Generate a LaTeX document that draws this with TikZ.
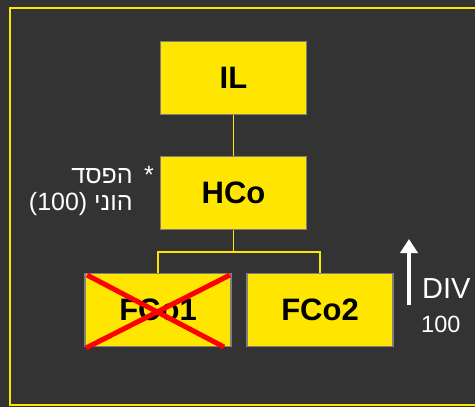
\documentclass[tikz,border=0pt]{standalone}
\usepackage{fontspec}
\setmainfont{Liberation Sans}
\newfontfamily\hebfont[Script=Hebrew]{Liberation Sans}
\TeXXeTstate=1
\usetikzlibrary{arrows.meta}
\definecolor{bg}{HTML}{333333}
\definecolor{yel}{HTML}{FFE600}
\definecolor{bord}{HTML}{7F7F7F}
\definecolor{redx}{HTML}{FF0000}
\begin{document}
\begin{tikzpicture}[x=1pt,y=1pt,
  box/.style={draw=bord,line width=1.5pt,fill=yel,minimum width=146pt,minimum height=73pt,inner sep=0pt,font=\fontsize{31}{31}\selectfont\bfseries,text=black},
  conn/.style={draw=yel,line width=1.6pt},
  lbl/.style={text=white,inner sep=0pt}]
\fill[bg] (0,0) rectangle (475,-407);
\useasboundingbox (0,0) rectangle (475,-407);
\draw[yel,line width=2pt] (9.5,-7.5) rectangle (485,-405);
\node[box] (il) at (233.5,-78) {IL};
\node[box] (hco) at (233.5,-193) {HCo};
\node[box] (fco1) at (158,-310) {FCo1};
\node[box] (fco2) at (320,-310) {FCo2};
\draw[conn] (il) -- (hco);
\draw[conn] (hco.south) -- ++(0,-22) coordinate (bus);
\draw[conn] (bus) -| (fco1.north);
\draw[conn] (bus) -| (fco2.north);
\draw[redx,line width=5pt] (87,-275) -- (224,-347);
\draw[redx,line width=5pt] (86,-348) -- (230,-275);
\node[lbl,anchor=base east,font=\fontsize{25}{25}\selectfont] (loss1) at (133,-183) {\hebfont\beginR הפסד\endR};
\node[lbl,anchor=base west,font=\fontsize{25}{25}\selectfont] (star) at (144,-183) {*};
\node[lbl,anchor=base east,font=\fontsize{25}{25}\selectfont] (loss2) at (133,-210) {\hebfont\beginR הוני~\beginL(100)\endL\endR};
\coordinate (arrbot) at (409,-305);
\coordinate (arrtop) at (409,-239);
\draw[white,line width=4pt,-{Triangle[width=17pt,length=14pt]}] (arrbot) -- (arrtop);
\node[lbl,anchor=base west,font=\fontsize{29}{29}\selectfont] (div) at (422,-298) {DIV};
\node[lbl,anchor=base west,font=\fontsize{23.5}{23.5}\selectfont] (amt) at (421,-332) {100};
\end{tikzpicture}
\end{document}
